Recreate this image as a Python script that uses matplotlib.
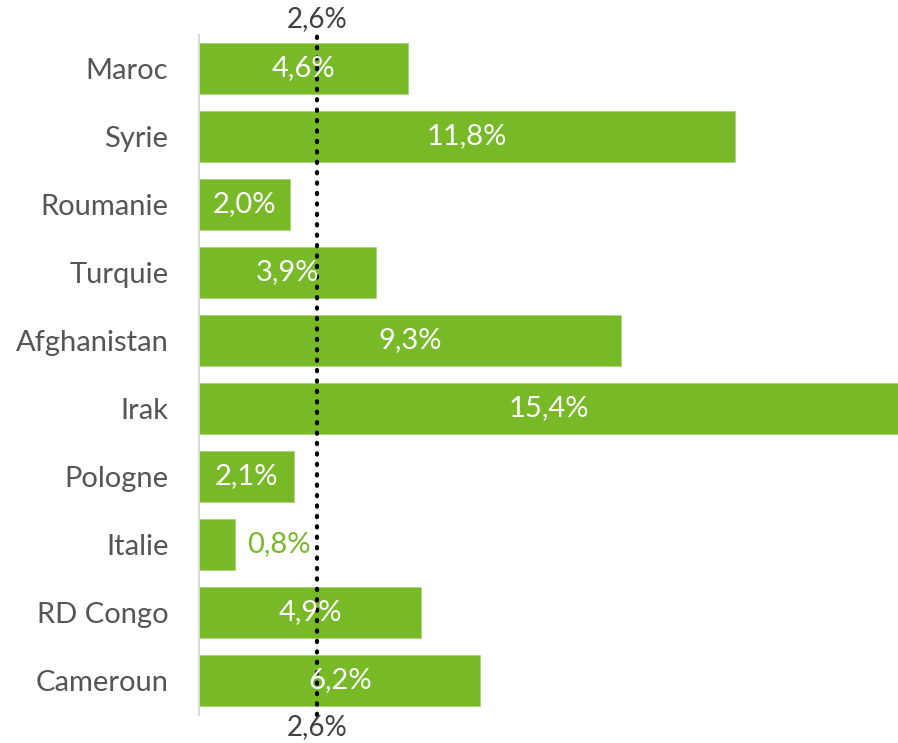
import matplotlib.pyplot as plt

pays = ["Maroc", "Syrie", "Roumanie", "Turquie", "Afghanistan", "Irak",
        "Pologne", "Italie", "RD Congo", "Cameroun"]
valeurs = [4.6, 11.8, 2.0, 3.9, 9.3, 15.4, 2.1, 0.8, 4.9, 6.2]
moyenne = 2.6

vert = "#78B928"
plt.rcParams['font.family'] = ['Lato', 'DejaVu Sans']

fig = plt.figure(figsize=(8.98, 7.43), dpi=100)
ax = fig.add_axes([199/898, 28.5/743, 1 - 199/898, 680/743])

y = list(range(len(pays)))
ax.barh(y, valeurs, height=0.75, color=vert, edgecolor="#a9d47a", linewidth=0.6)
ax.set_xlim(0, 15.4)
ax.set_ylim(len(pays) - 0.5, -0.5)

for i, v in enumerate(valeurs):
    txt = f"{v:.1f}".replace(".", ",") + "%"
    if v < 1.5:
        ax.text(v + 0.25, i, txt, ha="left", va="center", color=vert, fontsize=21)
    else:
        ax.text(v / 2, i, txt, ha="center", va="center", color="white", fontsize=21)

# ligne de la moyenne
ax.axvline(moyenne, ymin=0.0, ymax=1.0, color="black", linestyle=(0, (0.3, 2.2)),
           linewidth=3, dash_capstyle="round", clip_on=False)
lab = f"{moyenne:.1f}".replace(".", ",") + "%"
ax.text(moyenne, -0.72, lab, ha="center", va="center", color="#404040", fontsize=20)
ax.text(moyenne, len(pays) - 0.31, lab, ha="center", va="center", color="#404040", fontsize=20)

ax.set_yticks(y)
ax.set_yticklabels(pays, fontsize=21, color="#555555")
ax.tick_params(axis="y", length=0, pad=22)
ax.set_xticks([])
for s in ["top", "right", "bottom"]:
    ax.spines[s].set_visible(False)
ax.spines["left"].set_color("#d9d9d9")
ax.spines["left"].set_linewidth(1.5)

fig.savefig("out.png", dpi=100)
